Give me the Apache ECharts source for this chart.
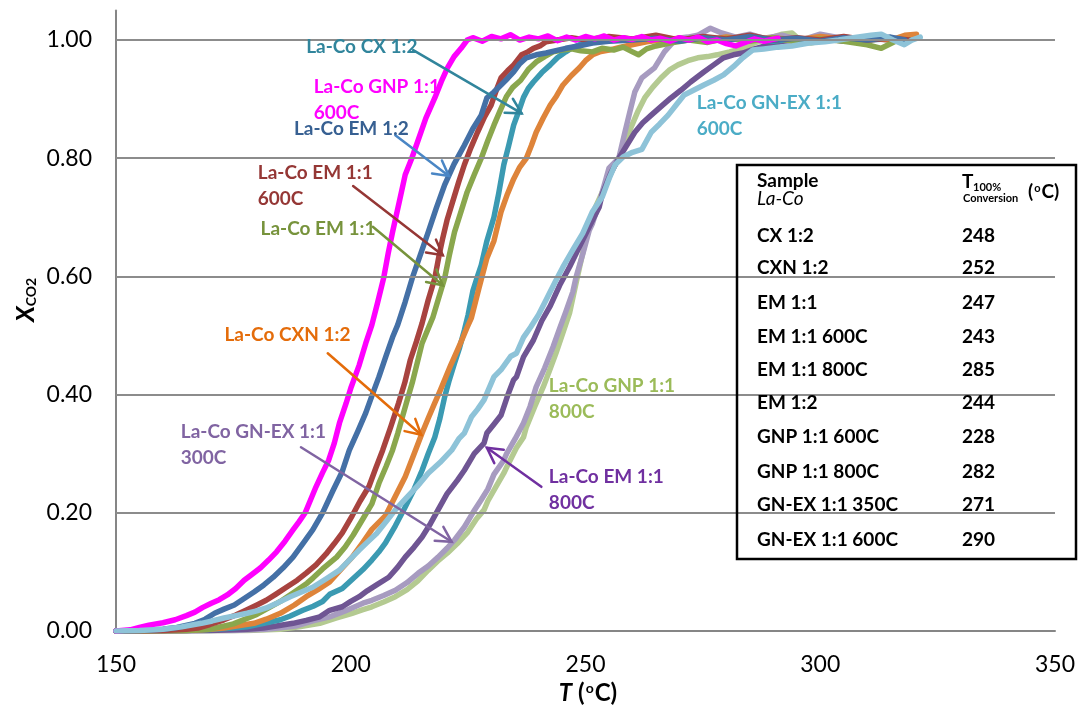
<!DOCTYPE html>
<html>
<head>
<meta charset="utf-8">
<script src="https://cdn.jsdelivr.net/npm/echarts@6/dist/echarts.min.js"></script>
<style>
  html, body { margin: 0; padding: 0; background: #fff; }
  #chart { width: 1078px; height: 708px; }
</style>
</head>
<body>
<div id="chart"></div>
<script>
// CO2 conversion (X_CO2) versus temperature T (°C) for La-Co catalysts.
// Each series: [T, X_CO2] pairs.

const gnp600 = [[150,0],[153,0.002],[155,0.006],[157,0.01],[160,0.014],[162.6,0.019],[165,0.026],[166.8,0.032],[168.5,0.04],[170.3,0.047],[172,0.053],[173.7,0.061],[175.5,0.072],[177.3,0.086],[179,0.096],[180.8,0.107],[182.5,0.12],[184.2,0.134],[186,0.152],[187.7,0.171],[189,0.185],[190.3,0.2],[192.6,0.244],[194,0.268],[195.3,0.289],[196.5,0.318],[197.6,0.352],[199,0.385],[200.1,0.413],[201.8,0.45],[203.2,0.487],[204.5,0.518],[205.7,0.555],[207,0.597],[208,0.64],[208.9,0.675],[210.3,0.725],[211.6,0.772],[213,0.8],[214.2,0.827],[216,0.868],[217.9,0.902],[219.3,0.93],[220.6,0.953],[222,0.972],[223.5,0.986],[224.8,1.0],[226,1.004],[228,0.998],[230,1.006],[232,1.002],[234,1.009],[236,1.0],[238,1.005],[240,1.002],[242,1.007],[244,0.999],[246,1.005],[248,1.0],[250,1.006],[252,1.002],[254,1.007],[256,1.0],[258,1.004],[260,1.001],[262,1.006],[264,1.0],[266,1.003],[268,0.998],[270,1.004],[272,1.0],[274,1.005],[276,0.997],[278,1.0],[280,0.994],[282,0.99],[284,0.996],[286,1.002],[288,0.998],[291,1.003]];

const em12 = [[150,0],[155,0.001],[160,0.003],[163,0.006],[166.8,0.013],[169,0.02],[171,0.03],[173,0.037],[175.2,0.044],[177.3,0.055],[179.4,0.066],[181.5,0.078],[183.5,0.091],[185.6,0.107],[187.7,0.125],[189.8,0.148],[191.9,0.171],[194,0.2],[196.3,0.239],[198.2,0.27],[199.7,0.306],[201.5,0.338],[203.2,0.369],[204.6,0.4],[206,0.43],[207.5,0.465],[208.9,0.497],[210,0.518],[211.6,0.557],[213.1,0.597],[214.8,0.636],[216.5,0.675],[218.2,0.715],[220,0.755],[222,0.79],[224.2,0.822],[226,0.85],[227.8,0.873],[229,0.902],[230.5,0.912],[232,0.924],[233.4,0.935],[234.7,0.946],[236,0.96],[237.4,0.97],[239.5,0.975],[241.6,0.978],[243.7,0.982],[245.8,0.986],[248.5,0.99],[251.5,0.995],[255,0.998],[260,1.0],[265,1.003],[270,0.998],[275,1.004],[280,1.0],[285,1.006],[290,1.0],[295,1.003],[300,0.998],[305,1.004],[310,1.0],[315,1.005],[318,1.0]];

const em11c600 = [[150,0],[160,0.001],[165,0.003],[167.4,0.005],[170,0.011],[173,0.019],[175.5,0.027],[177.9,0.036],[180,0.044],[182,0.052],[184,0.062],[186.3,0.074],[188.6,0.086],[190.5,0.098],[192.6,0.112],[194.7,0.13],[196.5,0.148],[198.2,0.166],[200.3,0.195],[202,0.22],[203.9,0.245],[205.3,0.275],[206.8,0.306],[208.5,0.345],[210.2,0.386],[211.5,0.42],[212.7,0.459],[214,0.49],[215.2,0.521],[216.5,0.56],[217.9,0.597],[218.8,0.635],[219.6,0.665],[220.5,0.695],[221.5,0.721],[223,0.76],[224.2,0.789],[225.6,0.818],[227,0.844],[228.5,0.87],[229.9,0.89],[231,0.915],[232,0.936],[233.4,0.948],[234.7,0.958],[236.4,0.975],[237.7,0.98],[238.9,0.986],[240.3,0.99],[241.6,0.997],[244,1.0],[247,1.004],[250,1.0],[255,1.006],[260,1.002],[265,1.008],[270,1.0],[275,1.006],[280,1.002],[285,1.008],[290,1.0],[295,1.004],[300,1.0],[305,1.006],[310,1.0],[315,1.003],[319,1.0]];

const em11 = [[150,0],[165,0.001],[170,0.003],[175,0.012],[180,0.028],[185,0.05],[188,0.066],[190.7,0.081],[192,0.09],[194,0.105],[197,0.125],[198.8,0.142],[200.5,0.162],[202.6,0.19],[204.5,0.215],[206,0.25],[207.5,0.278],[208.9,0.306],[210,0.334],[211,0.362],[212,0.39],[213.1,0.42],[214.2,0.455],[215.2,0.487],[216.4,0.51],[217.5,0.531],[218.6,0.56],[220,0.597],[221,0.636],[222.1,0.675],[223.5,0.71],[224.8,0.743],[226.3,0.772],[227.8,0.8],[229.2,0.83],[230.5,0.856],[231.8,0.88],[233.2,0.905],[234.5,0.92],[236.2,0.932],[237.8,0.95],[239.5,0.963],[241.3,0.972],[243.1,0.98],[245,0.983],[247,0.985],[249,0.982],[251.5,0.98],[253.5,0.986],[256,0.983],[258,0.988],[260,0.98],[261.3,0.975],[263,0.985],[265,0.99],[268,0.995],[272,1.0],[276,0.996],[280,1.003],[285,0.998],[290,1.004],[295,0.997],[300,1.002],[305,0.998],[310,0.992],[313,0.986],[316,0.998],[319,1.0]];

const cx12 = [[150,0],[165,0.001],[171,0.003],[175,0.005],[177.9,0.007],[181,0.012],[185,0.019],[187,0.025],[189.8,0.035],[192,0.042],[194,0.05],[195.5,0.062],[198.2,0.072],[200,0.085],[201.8,0.098],[202.6,0.104],[204.5,0.12],[206,0.134],[207.4,0.149],[209.5,0.178],[211.6,0.21],[213.5,0.24],[215.2,0.272],[216.5,0.3],[217.9,0.328],[219,0.36],[220,0.396],[221,0.425],[222.1,0.453],[223.2,0.48],[224.2,0.509],[225,0.535],[226,0.575],[227,0.6],[227.8,0.619],[229,0.66],[230.5,0.7],[231.5,0.74],[232.6,0.789],[233.6,0.82],[234.7,0.856],[235.8,0.88],[236.8,0.903],[237.8,0.918],[238.9,0.929],[240.7,0.945],[242.5,0.958],[244,0.97],[245.8,0.98],[247.2,0.987],[248.7,0.992],[251,0.996],[254,1.0],[258,1.003],[262,0.998],[266,1.004],[270,1.0],[275,1.005],[280,1.0],[285,1.004],[290,0.998],[295,1.003],[300,1.0],[305,1.005],[310,1.0],[315,1.002],[319,1.0]];

const cxn12 = [[150,0],[165,0.001],[170,0.003],[173,0.005],[176,0.009],[179.4,0.013],[182,0.02],[185,0.03],[188,0.044],[190.5,0.058],[193,0.07],[195.5,0.083],[198,0.105],[200.3,0.125],[202.6,0.15],[204.5,0.172],[207.4,0.195],[209.5,0.228],[211.6,0.261],[213.5,0.3],[215.2,0.335],[216.5,0.36],[217.9,0.386],[219,0.406],[220,0.425],[221.3,0.45],[222.7,0.475],[223.8,0.495],[224.8,0.514],[225.7,0.53],[227.3,0.58],[229,0.631],[230.5,0.66],[232,0.709],[233.4,0.74],[234.7,0.765],[236,0.785],[237.4,0.8],[238.5,0.822],[239.5,0.844],[241,0.868],[242.5,0.89],[243.8,0.905],[245.2,0.924],[247,0.94],[248.7,0.953],[250,0.965],[251.5,0.975],[253,0.98],[255,0.983],[257.5,0.988],[259.9,0.992],[263,0.997],[266,1.0],[270,1.003],[275,0.999],[280,1.005],[285,1.0],[290,1.004],[295,1.0],[300,1.006],[305,1.002],[310,1.004],[315,1.0],[318,1.008],[320.5,1.01]];

const gnex600 = [[150,0],[155,0.001],[160,0.003],[164,0.007],[168.2,0.013],[170.5,0.017],[173,0.022],[175.5,0.026],[177.9,0.03],[180,0.034],[182,0.039],[184.5,0.048],[187.1,0.058],[189.5,0.066],[191.9,0.074],[194.7,0.088],[197.6,0.103],[199.7,0.12],[201.8,0.137],[203.5,0.15],[205.5,0.165],[207.5,0.185],[209.5,0.205],[211.8,0.225],[214.2,0.245],[216.5,0.267],[219,0.285],[221.5,0.306],[223,0.325],[224.2,0.335],[225.7,0.362],[227,0.375],[228.4,0.391],[230.5,0.43],[232,0.442],[234.1,0.465],[235.3,0.47],[236.8,0.497],[238.3,0.514],[240,0.535],[241.6,0.56],[243.5,0.59],[245.2,0.616],[247.3,0.645],[249.4,0.673],[251.5,0.71],[253.6,0.735],[255,0.765],[256.3,0.789],[258,0.802],[260,0.81],[262,0.815],[264,0.844],[265.8,0.858],[267.6,0.873],[269.3,0.89],[271,0.907],[273,0.915],[275.2,0.924],[277.3,0.932],[279.4,0.941],[281.5,0.955],[283.5,0.97],[285.6,0.983],[288,0.985],[291,0.988],[294,0.99],[297.6,0.995],[301,0.997],[303.9,1.0],[307,1.004],[310.8,1.008],[313,1.01],[315.5,1.0],[317.9,0.992],[319.5,1.0],[321.3,1.005]];

const em11c800 = [[150,0],[170,0.001],[178,0.003],[181.4,0.005],[184.5,0.009],[187.7,0.013],[190.5,0.018],[193.4,0.024],[195.5,0.035],[198.2,0.041],[200,0.05],[201.8,0.058],[203.5,0.068],[205.5,0.078],[208.1,0.091],[210,0.108],[211.6,0.125],[213.5,0.142],[215.2,0.159],[217,0.182],[218.6,0.205],[220.5,0.232],[222.7,0.255],[224.2,0.272],[226.3,0.3],[228.4,0.318],[229,0.335],[230.5,0.35],[232,0.365],[233.4,0.398],[234.7,0.425],[235.3,0.43],[236.8,0.464],[238.9,0.492],[240.7,0.525],[242.5,0.55],[244.5,0.585],[246.6,0.616],[248.7,0.65],[250.8,0.684],[252.9,0.717],[253.6,0.74],[255.4,0.775],[257.1,0.8],[258.8,0.822],[260.5,0.844],[262.2,0.86],[264,0.873],[266,0.887],[268.2,0.902],[270.3,0.915],[272.4,0.929],[275.2,0.946],[277.3,0.958],[279.4,0.97],[281.5,0.975],[283.5,0.978],[286,0.985],[289,0.992],[292,0.998],[296,1.0],[300,1.004],[305,0.998],[310,1.003],[315,1.0],[318,1.002]];

const gnex300 = [[150,0],[175,0.001],[182,0.003],[184.6,0.005],[188.6,0.009],[191.9,0.017],[195.5,0.024],[198.8,0.034],[202.6,0.047],[204.5,0.052],[207,0.06],[209.5,0.069],[212,0.082],[214.4,0.098],[216.5,0.11],[218.6,0.125],[220.5,0.14],[222.1,0.154],[224.2,0.176],[226,0.2],[227.8,0.222],[229.2,0.24],[230.5,0.265],[232.6,0.289],[233.2,0.3],[235,0.325],[236.8,0.352],[238.2,0.38],[239.5,0.413],[241.3,0.445],[243.1,0.481],[244.5,0.512],[245.8,0.54],[247.3,0.574],[248,0.599],[249.5,0.64],[250.8,0.678],[251.5,0.69],[252.9,0.724],[255,0.783],[257.1,0.8],[258.4,0.844],[259.5,0.88],[260.5,0.912],[262,0.936],[264.7,0.953],[266.8,0.98],[268.5,0.995],[269.7,1.003],[271.8,1.005],[273.9,1.008],[276.6,1.02],[279,1.012],[282,1.005],[285,1.01],[288,1.003],[292,1.008],[296,1.0],[300,1.01],[304,1.004],[308,0.998],[312,1.005],[316,1.0],[319,1.002]];

const gnp800 = [[150,0],[178,0.001],[185,0.003],[189,0.007],[193.4,0.013],[197,0.022],[200.3,0.03],[202.6,0.036],[204.5,0.041],[207,0.049],[209.5,0.058],[212,0.07],[214.3,0.085],[216.5,0.103],[218.5,0.118],[220.6,0.132],[222.7,0.148],[224.8,0.166],[226.8,0.19],[228.4,0.205],[229.2,0.22],[231,0.245],[232.6,0.267],[233.2,0.277],[235.3,0.31],[236.8,0.328],[237.4,0.345],[239.2,0.38],[241,0.413],[242.3,0.44],[243.7,0.47],[245.2,0.505],[246.6,0.538],[248.3,0.6],[250,0.66],[251,0.69],[252.1,0.717],[253.6,0.743],[255.4,0.775],[257.1,0.8],[258.5,0.83],[259.9,0.856],[261.2,0.88],[262.6,0.902],[264.3,0.92],[266.1,0.936],[268,0.95],[269.7,0.958],[271.8,0.965],[273.9,0.97],[276,0.972],[278,0.975],[280.7,0.98],[283,0.985],[286,0.995],[289,1.003],[291.9,1.01],[294,1.012],[296,0.998],[298,0.995],[301,1.0],[305,1.004],[309,0.998],[313,1.003],[317,1.0],[319,1.002]];

// Horizontal gridline levels and axis ticks
const gridLevels = [0.2, 0.4, 0.6, 0.8, 1.0];
const xTicks = [150, 200, 250, 300, 350];

// Summary table: sample name and temperature of 100 % conversion
const tableSamples = ['CX 1:2', 'CXN 1:2', 'EM 1:1', 'EM 1:1 600C', 'EM 1:1 800C', 'EM 1:2', 'GNP 1:1 600C', 'GNP 1:1 800C', 'GN-EX 1:1 350C', 'GN-EX 1:1 600C'];
const tableT100 = ['248', '252', '247', '243', '285', '244', '228', '282', '271', '290'];

// Curves in drawing order (later ones on top)
const curves = [
  { name: 'La-Co GNP 1:1 800C', data: gnp800, color: '#B4CA91' },
  { name: 'La-Co GN-EX 1:1 300C', data: gnex300, color: '#A79BC0' },
  { name: 'La-Co EM 1:1 800C', data: em11c800, color: '#6F5593' },
  { name: 'La-Co CX 1:2', data: cx12, color: '#3B9AB2' },
  { name: 'La-Co CXN 1:2', data: cxn12, color: '#DE843A' },
  { name: 'La-Co EM 1:1', data: em11, color: '#8AA74D' },
  { name: 'La-Co EM 1:1 600C', data: em11c600, color: '#A8433F' },
  { name: 'La-Co EM 1:2', data: em12, color: '#4470A6' },
  { name: 'La-Co GNP 1:1 600C', data: gnp600, color: '#FF00FF' },
  { name: 'La-Co GN-EX 1:1 600C', data: gnex600, color: '#8EC3D8' }
];

// Callout labels (data coordinates of the first line's left/middle) and arrows
const callouts = [
  { lines: ['La-Co CX 1:2'], at: [190.5, 0.988], color: '#31859C', arrow: [[213.3, 0.983], [236.4, 0.876]], arrowColor: '#31859C' },
  { lines: ['La-Co GNP 1:1', '600C'], at: [192.1, 0.920], color: '#FF00FF' },
  { lines: ['La-Co EM 1:2'], at: [187.9, 0.849], color: '#376092', arrow: [[209.5, 0.839], [220.9, 0.770]], arrowColor: '#4A86C5' },
  { lines: ['La-Co EM 1:1', '600C'], at: [180.2, 0.775], color: '#953735', arrow: [[200.5, 0.753], [219.6, 0.636]], arrowColor: '#953735' },
  { lines: ['La-Co EM 1:1'], at: [180.8, 0.680], color: '#77933C', arrow: [[204.7, 0.684], [219.6, 0.585]], arrowColor: '#77933C' },
  { lines: ['La-Co CXN 1:2'], at: [173.1, 0.501], color: '#E46C0A', arrow: [[195.1, 0.470], [215.0, 0.332]], arrowColor: '#E46C0A' },
  { lines: ['La-Co GN-EX 1:1', '300C'], at: [163.8, 0.337], color: '#8064A2', arrow: [[189.4, 0.311], [221.5, 0.151]], arrowColor: '#8064A2' },
  { lines: ['La-Co GNP 1:1', '800C'], at: [242.2, 0.415], color: '#9BBB59' },
  { lines: ['La-Co EM 1:1', '800C'], at: [242.2, 0.261], color: '#7030A0', arrow: [[240.6, 0.244], [229.0, 0.310]], arrowColor: '#7030A0' },
  { lines: ['La-Co GN-EX 1:1', '600C'], at: [273.7, 0.893], color: '#4BACC6' }
];

const FONT = 'Lato, "Open Sans", sans-serif';
const chart = echarts.init(document.getElementById('chart'), null, { renderer: 'canvas' });

const series = curves.map(c => ({
  name: c.name,
  type: 'line',
  data: c.data,
  showSymbol: false,
  symbol: 'none',
  lineStyle: { color: c.color, width: 5.5, join: 'round', cap: 'round' },
  z: 3
}));

// Horizontal gridlines drawn as mark lines so none appears at the axis top
series.push({
  type: 'line',
  data: [],
  silent: true,
  z: 1,
  markLine: {
    silent: true,
    symbol: 'none',
    label: { show: false },
    lineStyle: { color: '#8C8C8C', width: 2, type: 'solid' },
    data: gridLevels.map(v => ({ yAxis: v }))
  }
});

chart.setOption({
  animation: false,
  backgroundColor: '#ffffff',
  grid: { left: 116, right: 8, top: 10.5, bottom: 77, containLabel: false },
  xAxis: {
    type: 'value',
    min: xTicks[0],
    max: xTicks[xTicks.length - 1],
    interval: 50,
    axisLine: { show: true, lineStyle: { color: '#868686', width: 2 } },
    axisTick: { show: false },
    splitLine: { show: false },
    axisLabel: { color: '#000', fontFamily: FONT, fontSize: 23, margin: 22 }
  },
  yAxis: {
    type: 'value',
    min: 0,
    max: 1.05,
    interval: 0.2,
    axisLine: { show: true, lineStyle: { color: '#868686', width: 2 } },
    axisTick: { show: false },
    splitLine: { show: false },
    axisLabel: {
      color: '#000', fontFamily: FONT, fontSize: 23, margin: 24,
      showMaxLabel: false,
      formatter: v => (v > 1.001 ? '' : v.toFixed(2))
    }
  },
  series: series
});

// ---- annotations, axis titles and the summary table ----
function px(p) { return chart.convertToPixel({ gridIndex: 0 }, p); }

function arrowShapes(p0, p1, color) {
  const dx = p1[0] - p0[0], dy = p1[1] - p0[1];
  const ang = Math.atan2(dy, dx);
  const len = 17, spread = 0.5;
  const a1 = [p1[0] - len * Math.cos(ang - spread), p1[1] - len * Math.sin(ang - spread)];
  const a2 = [p1[0] - len * Math.cos(ang + spread), p1[1] - len * Math.sin(ang + spread)];
  const style = { stroke: color, lineWidth: 2.5, lineCap: 'round', fill: null };
  return [
    { type: 'line', shape: { x1: p0[0], y1: p0[1], x2: p1[0], y2: p1[1] }, style: style, z: 20 },
    { type: 'polyline', shape: { points: [a1, p1, a2] }, style: style, z: 20 }
  ];
}

const graphics = [];

callouts.forEach(c => {
  const p = px(c.at);
  c.lines.forEach((t, i) => {
    graphics.push({
      type: 'text', x: p[0], y: p[1] + i * 26, z: 21,
      style: { text: t, fill: c.color, font: 'bold 19px ' + FONT, textAlign: 'left', textVerticalAlign: 'middle' }
    });
  });
  if (c.arrow) {
    arrowShapes(px(c.arrow[0]), px(c.arrow[1]), c.arrowColor).forEach(g => graphics.push(g));
  }
});

// Axis titles
graphics.push({
  type: 'text', x: 588, y: 693, z: 21,
  style: {
    text: '{i|T}{b| (}{s|o}{b|C)}',
    textAlign: 'center', textVerticalAlign: 'middle',
    rich: {
      i: { font: 'italic bold 24px ' + FONT, fill: '#000' },
      b: { font: 'bold 24px ' + FONT, fill: '#000' },
      s: { font: 'bold 14px ' + FONT, fill: '#000', verticalAlign: 'top', padding: [0, 1, 10, 1] }
    }
  }
});
graphics.push({
  type: 'text', x: 26, y: 300, rotation: Math.PI / 2, z: 21,
  style: {
    text: '{i|X}{s|CO2}',
    textAlign: 'center', textVerticalAlign: 'middle',
    rich: {
      i: { font: 'italic bold 25px ' + FONT, fill: '#000' },
      s: { font: 'bold 14px ' + FONT, fill: '#000', verticalAlign: 'bottom', padding: [8, 0, 0, 0] }
    }
  }
});

// Summary table (transparent, outlined)
const tbl = { x: 737, y: 165, w: 339, h: 394, col1: 757, col2: 962 };
graphics.push({
  type: 'rect', z: 19,
  shape: { x: tbl.x, y: tbl.y, width: tbl.w, height: tbl.h },
  style: { fill: null, stroke: '#000', lineWidth: 2.5 }
});
graphics.push({ type: 'text', x: tbl.col1, y: 181, z: 21,
  style: { text: 'Sample', font: 'bold 19px ' + FONT, fill: '#000', textVerticalAlign: 'middle' } });
graphics.push({ type: 'text', x: tbl.col1, y: 199, z: 21,
  style: { text: 'La-Co', font: 'italic 19px ' + FONT, fill: '#000', textVerticalAlign: 'middle' } });
graphics.push({ type: 'text', x: tbl.col2, y: 182, z: 21,
  style: { text: 'T', font: 'bold 19px ' + FONT, fill: '#000', textVerticalAlign: 'middle' } });
graphics.push({ type: 'text', x: 973, y: 187, z: 21,
  style: { text: '100%', font: 'bold 11px ' + FONT, fill: '#000', textVerticalAlign: 'middle' } });
graphics.push({ type: 'text', x: 963, y: 198, z: 21,
  style: { text: 'Conversion', font: 'bold 11px ' + FONT, fill: '#000', textVerticalAlign: 'middle' } });
graphics.push({ type: 'text', x: 1028, y: 192, z: 21,
  style: {
    text: '{b|(}{s|o}{b|C)}', textVerticalAlign: 'middle',
    rich: {
      b: { font: 'bold 19px ' + FONT, fill: '#000' },
      s: { font: 'bold 11px ' + FONT, fill: '#000', verticalAlign: 'top', padding: [0, 1, 8, 1] }
    }
  }
});
const rowY = [236, 268, 303, 337, 370, 403, 437, 472, 505, 540];
tableSamples.forEach((s, i) => {
  graphics.push({ type: 'text', x: tbl.col1, y: rowY[i], z: 21,
    style: { text: s, font: 'bold 19px ' + FONT, fill: '#000', textVerticalAlign: 'middle' } });
  graphics.push({ type: 'text', x: tbl.col2, y: rowY[i], z: 21,
    style: { text: tableT100[i], font: 'bold 19px ' + FONT, fill: '#000', textVerticalAlign: 'middle' } });
});

chart.setOption({ graphic: graphics });
</script>
</body>
</html>
